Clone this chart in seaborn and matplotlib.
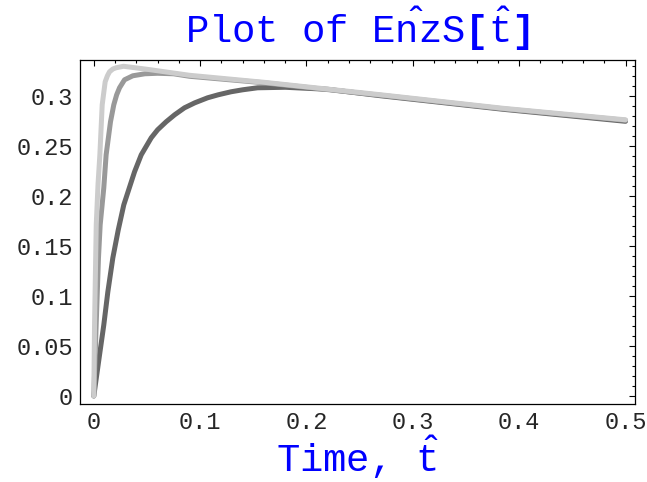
import matplotlib
matplotlib.use("Agg")
import matplotlib.pyplot as plt
from matplotlib.ticker import MultipleLocator
import seaborn as sns

# values
# fast curve (light grey)
light_t = [0, 0.0007, 0.0023, 0.0040, 0.0057, 0.0079, 0.0107, 0.0128, 0.0148,
           0.018, 0.021, 0.028, 0.05, 0.09, 0.16, 0.27, 0.385, 0.5]
light_y = [0, 0.071, 0.171, 0.212, 0.241, 0.291, 0.314, 0.320, 0.324,
           0.3268, 0.328, 0.3295, 0.3265, 0.3205, 0.3135, 0.301, 0.2875, 0.276]

# middle curve (mid grey)
medium_t = [0, 0.0022, 0.0044, 0.006, 0.0094, 0.0116, 0.0157, 0.0188, 0.0215,
            0.0242, 0.0289, 0.0367, 0.048, 0.06, 0.075, 0.09, 0.16, 0.27,
            0.385, 0.5]
medium_y = [0, 0.07, 0.138, 0.171, 0.208, 0.241, 0.274, 0.291, 0.301,
            0.308, 0.316, 0.320, 0.322, 0.3225, 0.322, 0.3195, 0.313, 0.3005,
            0.287, 0.2755]

# slow curve (dark grey)
dark_t = [0, 0.005, 0.0094, 0.0132, 0.0179, 0.023, 0.0282, 0.0383, 0.0446,
          0.054, 0.060, 0.068, 0.076, 0.0853, 0.095, 0.107, 0.117, 0.129,
          0.14, 0.154, 0.18, 0.22, 0.27, 0.385, 0.5]
dark_y = [0, 0.038, 0.071, 0.104, 0.138, 0.166, 0.191, 0.224, 0.241,
          0.258, 0.266, 0.274, 0.281, 0.288, 0.293, 0.298, 0.301, 0.304,
          0.306, 0.308, 0.3085, 0.3065, 0.3, 0.2865, 0.2745]

xtick_vals = [0, 0.1, 0.2, 0.3, 0.4, 0.5]
xtick_labels = ["0", "0.1", "0.2", "0.3", "0.4", "0.5"]
ytick_vals = [0, 0.05, 0.1, 0.15, 0.2, 0.25, 0.3]
ytick_labels = ["0", "0.05", "0.1", "0.15", "0.2", "0.25", "0.3"]

sns.set_style("white")
plt.rcParams["font.family"] = ["Liberation Mono", "DejaVu Sans"]
plt.rcParams["mathtext.fontset"] = "custom"
plt.rcParams["mathtext.tt"] = "Liberation Mono"
plt.rcParams["mathtext.rm"] = "Liberation Mono"
plt.rcParams["mathtext.bf"] = "Liberation Mono:bold"

fig = plt.figure(figsize=(6.47, 4.82), dpi=100)
ax = fig.add_axes([0.1236, 0.1618, 0.858, 0.7142])

# dark first so the light curve sits on top
for t, y, c in [(dark_t, dark_y, "#666666"),
                (medium_t, medium_y, "#999999"),
                (light_t, light_y, "#cccccc")]:
    sns.lineplot(x=t, y=y, color=c, linewidth=3.6, ax=ax,
                 solid_capstyle="round", solid_joinstyle="round")

ax.set_xlim(-0.013, 0.509)
ax.set_ylim(-0.008, 0.336)
ax.set_xticks(xtick_vals)
ax.set_xticklabels(xtick_labels)
ax.set_yticks(ytick_vals)
ax.set_yticklabels(ytick_labels)
ax.xaxis.set_minor_locator(MultipleLocator(0.02))
ax.yaxis.set_minor_locator(MultipleLocator(0.01))
ax.tick_params(which="both", direction="in", top=True, right=True,
               color="black", width=0.8)
ax.tick_params(which="major", length=4, labelsize=17, pad=5)
ax.tick_params(which="minor", length=2)
for s in ax.spines.values():
    s.set_color("black")
    s.set_linewidth(0.9)

ax.set_title(r"Plot of $\hat{\mathtt{Enz}}\mathtt{S}\mathbf{[}\hat{\mathtt{t}}\mathbf{]}$",
             color="blue", fontsize=28, pad=12)
ax.set_xlabel(r"Time, $\hat{\mathtt{t}}$", color="blue", fontsize=28, labelpad=0)
ax.set_ylabel("")

fig.savefig("out.png", dpi=100)
